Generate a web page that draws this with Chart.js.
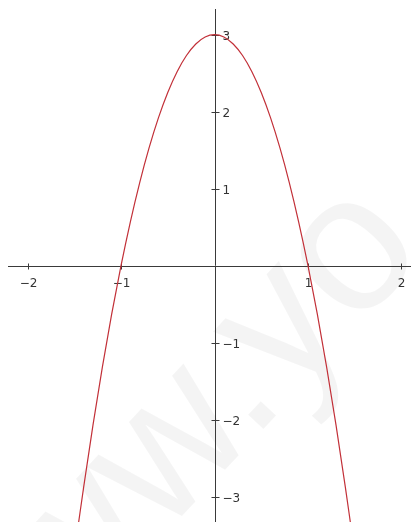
<!DOCTYPE html>
<html>
<head>
<meta charset="utf-8">
<script src="https://cdn.jsdelivr.net/npm/chart.js@4.4.1/dist/chart.umd.min.js"></script>
<style>
    html, body { margin: 0; padding: 0; background: #fff; }
    #wrap { width: 411px; height: 522px; }
</style>
</head>
<body>
<div id="wrap"><canvas id="chart" width="411" height="522"></canvas></div>
<script>
// points
const curveX = [-1.46, -1.4, -1.3, -1.2, -1.1, -1.0, -0.9, -0.8, -0.7, -0.6, -0.5, -0.4, -0.3, -0.2, -0.1, 0,
                0.1, 0.2, 0.3, 0.4, 0.5, 0.6, 0.7, 0.8, 0.9, 1.0, 1.1, 1.2, 1.3, 1.4, 1.46];
const curveY = [-3.39, -2.88, -2.07, -1.32, -0.63, 0, 0.57, 1.08, 1.53, 1.92, 2.25, 2.52, 2.73, 2.88, 2.97, 3,
                2.97, 2.88, 2.73, 2.52, 2.25, 1.92, 1.53, 1.08, 0.57, 0, -0.63, -1.32, -2.07, -2.88, -3.39];
const xTicks = [-2, -1, 1, 2];
const yTicks = [-3, -2, -1, 1, 2, 3];
const xRange = [-2.209, 2.102];
const yRange = [-3.329, 3.334];

const fmt = v => (v < 0 ? "\u2212" + Math.abs(v) : String(v));

// faint watermark behind everything, the dot is pinned at (267, 405)
const watermark = {
    id: "watermark",
    beforeDraw(chart) {
        const ctx = chart.ctx;
        const size = 195;
        ctx.save();
        ctx.translate(267, 405);
        ctx.rotate(-47 * Math.PI / 180);
        ctx.font = size + "px 'Liberation Sans', sans-serif";
        ctx.fillStyle = "rgba(0,0,0,0.045)";
        ctx.textBaseline = "alphabetic";
        ctx.textAlign = "left";
        const lead = ctx.measureText("www").width + ctx.measureText(".").width / 2;
        ctx.fillText("www.yo", -lead, size * 0.07);
        ctx.restore();
    }
};

// axes through the origin with cross ticks
const axes = {
    id: "axes",
    beforeDatasetsDraw(chart) {
        const ctx = chart.ctx;
        const xs = chart.scales.x, ys = chart.scales.y;
        const area = chart.chartArea;
        const x0 = Math.round(xs.getPixelForValue(0)) + 0.5;
        const y0 = Math.round(ys.getPixelForValue(0)) + 0.5;
        ctx.save();
        ctx.strokeStyle = "#3a3a3a";
        ctx.lineWidth = 1;
        ctx.beginPath();
        ctx.moveTo(area.left, y0); ctx.lineTo(area.right, y0);
        ctx.moveTo(x0, area.top); ctx.lineTo(x0, area.bottom);
        ctx.stroke();

        ctx.font = "12px 'DejaVu Sans', sans-serif";
        ctx.fillStyle = "#333";
        ctx.textBaseline = "middle";

        ctx.textAlign = "center";
        xTicks.forEach(v => {
            const px = Math.round(xs.getPixelForValue(v)) + 0.5;
            ctx.beginPath();
            ctx.moveTo(px, y0 - 3); ctx.lineTo(px, y0 + 3);
            ctx.stroke();
            ctx.fillText(fmt(v), px, y0 + 17);
        });

        ctx.textAlign = "left";
        yTicks.forEach(v => {
            const py = Math.round(ys.getPixelForValue(v)) + 0.5;
            ctx.beginPath();
            ctx.moveTo(x0 - 4, py); ctx.lineTo(x0 + 4, py);
            ctx.stroke();
            ctx.fillText(fmt(v), x0 + 7, py + 1);
        });
        ctx.restore();
    }
};

new Chart(document.getElementById("chart"), {
    type: "scatter",
    data: {
        datasets: [{
            data: curveX.map((x, i) => ({ x: x, y: curveY[i] })),
            showLine: true,
            borderColor: "#c23038",
            borderWidth: 1.2,
            pointRadius: 0,
            cubicInterpolationMode: "monotone",
            fill: false
        }]
    },
    options: {
        responsive: false,
        animation: false,
        layout: { padding: { left: 8, top: 9, right: 0, bottom: 0 } },
        scales: {
            x: { type: "linear", min: xRange[0], max: xRange[1], display: false },
            y: { type: "linear", min: yRange[0], max: yRange[1], display: false }
        },
        plugins: {
            legend: { display: false },
            tooltip: { enabled: false }
        }
    },
    plugins: [watermark, axes]
});
</script>
</body>
</html>
